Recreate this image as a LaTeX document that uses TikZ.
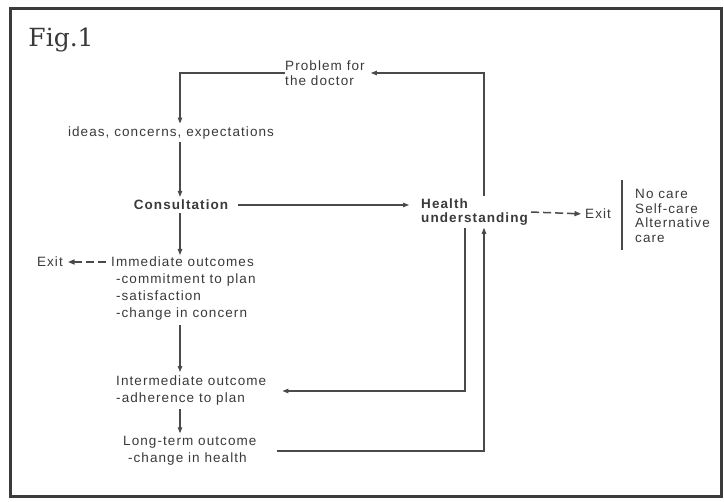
\documentclass[tikz,border=0pt]{standalone}
\usepackage{fontspec}
\setmainfont{Liberation Sans}[LetterSpace=8]
\newfontfamily\figfont{DejaVu Serif}
\usetikzlibrary{arrows.meta}
\definecolor{ink}{HTML}{3A3A3A}
\definecolor{wire}{HTML}{4A4A4A}

\tikzset{txt/.style={font=\fontsize{13.5}{17}\selectfont, text=ink, inner sep=0pt, align=left},
         tight/.style={txt, font=\fontsize{13.5}{14.5}\selectfont},
         arr/.style={draw=wire, line width=1.1pt, -{Triangle[length=6pt,width=4.5pt]}},
         darr/.style={arr, line width=1.5pt, -{Triangle[length=6.5pt,width=5pt]}, dash pattern=on 8pt off 4pt}}

\begin{document}
\begin{tikzpicture}[x=1pt, y=-1pt]
  \useasboundingbox (0,0) rectangle (724,502);
  \draw[wire!80!black, line width=3pt] (10,9) rectangle (721,497);
  \node[font=\figfont\fontsize{25}{25}\selectfont, text=ink] (fig) at (61,40) {Fig.1};
  \coordinate (cx) at (180,0);  \coordinate (rx) at (484,0);  \coordinate (lx) at (465,0);

  \node[tight, anchor=west] (prob) at (285,73) {Problem for\\the doctor};
  \node[txt] (idea) at (171,133) {ideas, concerns, expectations};
  \node[txt, font=\fontsize{13.5}{17}\selectfont\bfseries] (cons) at (181,205) {Consultation};
  \node[tight, anchor=west, font=\fontsize{13.5}{14.5}\selectfont\bfseries, inner sep=2pt] (hlth) at (419,212) {Health\\understanding};
  \node[txt, anchor=west] (exr) at (585,214) {Exit};
  \node[tight, anchor=west] (care) at (635,216) {No care\\Self-care\\Alternative\\care};
  \draw[wire, line width=1.1pt] (622,180) -- (622,250);

  \node[txt, anchor=north west] (imm) at (111,257) {Immediate outcomes\\\ -commitment to plan\\\ -satisfaction\\\ -change in concern};
  \node[txt, anchor=east] (exl) at (63,262) {Exit};
  \node[txt, anchor=west] (intm) at (116,391) {Intermediate outcome\\-adherence to plan};
  \node[txt, anchor=west] (long) at (123,451) {Long-term outcome\\\ -change in health};

  \draw[arr, shorten >=3pt] (prob.west) -| (idea.north -| cx);
  \draw[arr, shorten <=3pt, shorten >=3pt] (idea.south -| cx) -- (cons.north -| cx);
  \draw[arr, shorten <=3pt, shorten >=2pt] (cons.south -| cx) -- (imm.north -| cx);
  \draw[arr, shorten <=4pt, shorten >=4pt] (imm.south -| cx) -- (intm.north -| cx);
  \draw[arr, shorten <=3pt, shorten >=3pt] (intm.south -| cx) -- (long.north -| cx);
  \draw[arr, shorten <=10pt, shorten >=10pt] (cons.east) -- (cons.east -| hlth.west);
  \draw[arr, shorten >=6pt] (hlth.north -| rx) |- (prob.east);
  \draw[darr, shorten <=1pt, shorten >=4pt] (hlth.east) -- (exr.west);
  \draw[darr, shorten <=5pt, shorten >=5pt] (imm.north west) ++(0,5) coordinate (ia) (ia) -- (ia -| exl.east);
  \draw[arr, shorten >=16pt] (hlth.south -| lx) |- (intm.east);
  \draw[arr, shorten <=20pt] (long.east) -| (hlth.south -| rx);
\end{tikzpicture}
\end{document}
